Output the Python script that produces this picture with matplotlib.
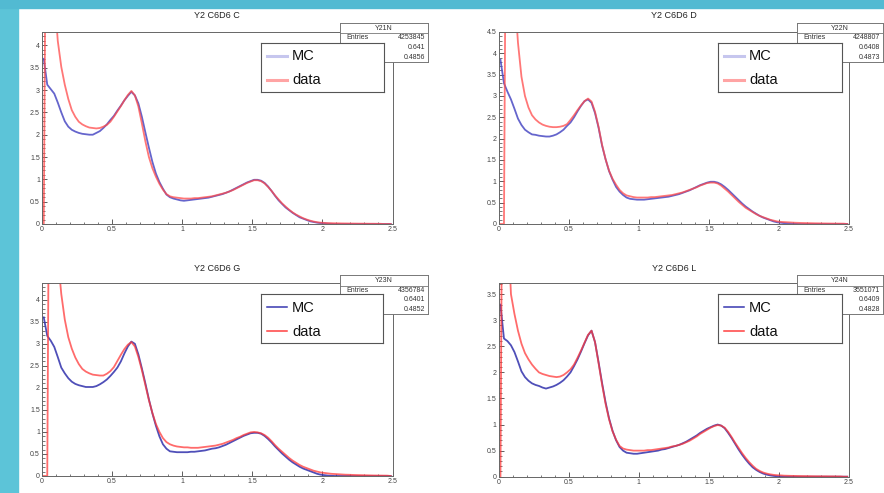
import numpy as np
import matplotlib
matplotlib.use("Agg")
import matplotlib.pyplot as plt
from matplotlib.patches import Rectangle
from matplotlib.ticker import MultipleLocator, FormatStrFormatter

plt.rcParams['font.family'] = ['Liberation Sans', 'DejaVu Sans']

# 100 bins of 0.025 between 0 and 2.5
bin_edges = np.linspace(0, 2.5, 101)
bin_centers = 0.5 * (bin_edges[:-1] + bin_edges[1:])

titles = ["Y2 C6D6 C", "Y2 C6D6 D", "Y2 C6D6 G", "Y2 C6D6 L"]
hist_names = ["Y21N", "Y22N", "Y23N", "Y24N"]
entries = ["4253845", "4248807", "4356784", "3551071"]
means = ["0.641", "0.6408", "0.6401", "0.6409"]
std_devs = ["0.4856", "0.4873", "0.4852", "0.4828"]
y_max = [4.3, 4.5, 4.38, 3.72]

mc_C = [3.7, 3.12, 3.02, 2.92, 2.72, 2.5, 2.3, 2.18, 2.11, 2.07,
        2.04, 2.02, 2.01, 2.0, 2.0, 2.04, 2.08, 2.15, 2.23, 2.33,
        2.42, 2.54, 2.65, 2.77, 2.87, 2.96, 2.88, 2.7, 2.4, 2.05,
        1.71, 1.39, 1.13, 0.94, 0.79, 0.66, 0.6, 0.57, 0.55, 0.53,
        0.52, 0.53, 0.54, 0.55, 0.56, 0.57, 0.58, 0.59, 0.61, 0.63,
        0.65, 0.67, 0.7, 0.73, 0.77, 0.81, 0.85, 0.89, 0.93, 0.96,
        0.99, 0.99, 0.97, 0.92, 0.84, 0.74, 0.63, 0.53, 0.45, 0.37,
        0.31, 0.25, 0.2, 0.15, 0.12, 0.09, 0.06, 0.045, 0.03, 0.02,
        0.015, 0.008, 0.004, 0, 0, 0, 0, 0, 0, 0,
        0, 0, 0, 0, 0, 0, 0, 0, 0, 0]
data_C = [0, 12.0, 8.0, 5.2, 4.1, 3.52, 3.12, 2.8, 2.55, 2.4,
          2.29, 2.23, 2.19, 2.16, 2.15, 2.14, 2.15, 2.18, 2.22, 2.29,
          2.4, 2.52, 2.64, 2.77, 2.89, 2.98, 2.88, 2.63, 2.25, 1.85,
          1.5, 1.25, 1.06, 0.9, 0.77, 0.67, 0.62, 0.6, 0.59, 0.58,
          0.57, 0.57, 0.57, 0.58, 0.58, 0.59, 0.6, 0.61, 0.62, 0.64,
          0.66, 0.68, 0.7, 0.73, 0.76, 0.8, 0.84, 0.88, 0.92, 0.95,
          0.98, 0.98, 0.96, 0.91, 0.83, 0.74, 0.64, 0.55, 0.46, 0.39,
          0.32, 0.26, 0.21, 0.17, 0.13, 0.1, 0.075, 0.055, 0.04, 0.03,
          0.025, 0.02, 0.018, 0.016, 0.015, 0.013, 0.012, 0.011, 0.01, 0.009,
          0.008, 0.008, 0.007, 0.006, 0.006, 0.005, 0.005, 0, 0, 0]

mc_D = [3.85, 3.3, 3.1, 2.92, 2.7, 2.47, 2.32, 2.21, 2.15, 2.1,
        2.09, 2.07, 2.06, 2.05, 2.05, 2.07, 2.1, 2.15, 2.21, 2.3,
        2.38, 2.5, 2.64, 2.77, 2.88, 2.92, 2.84, 2.6, 2.26, 1.84,
        1.52, 1.24, 1.04, 0.87, 0.76, 0.68, 0.62, 0.59, 0.58, 0.57,
        0.57, 0.57, 0.58, 0.59, 0.6, 0.61, 0.62, 0.63, 0.64, 0.66,
        0.68, 0.7, 0.73, 0.76, 0.79, 0.83, 0.87, 0.91, 0.94, 0.97,
        0.99, 0.99, 0.97, 0.93, 0.87, 0.8, 0.72, 0.64, 0.56, 0.48,
        0.41, 0.35, 0.29, 0.24, 0.19, 0.15, 0.12, 0.09, 0.06, 0.04,
        0.03, 0.02, 0.012, 0.008, 0.005, 0, 0, 0, 0, 0,
        0, 0, 0, 0, 0, 0, 0, 0, 0, 0]
data_D = [0, 0, 14.0, 9.0, 5.5, 4.25, 3.45, 3.0, 2.73, 2.55,
          2.45, 2.38, 2.33, 2.3, 2.28, 2.27, 2.27, 2.28, 2.3, 2.34,
          2.44, 2.55, 2.67, 2.78, 2.88, 2.94, 2.87, 2.63, 2.28, 1.86,
          1.52, 1.25, 1.06, 0.92, 0.8, 0.72, 0.67, 0.65, 0.63, 0.62,
          0.62, 0.62, 0.62, 0.63, 0.63, 0.64, 0.65, 0.66, 0.67, 0.68,
          0.7, 0.72, 0.74, 0.77, 0.8, 0.83, 0.86, 0.9, 0.93, 0.96,
          0.97, 0.97, 0.95, 0.9, 0.83, 0.76, 0.68, 0.6, 0.52, 0.45,
          0.38, 0.33, 0.28, 0.23, 0.19, 0.16, 0.13, 0.1, 0.08, 0.06,
          0.05, 0.045, 0.04, 0.035, 0.03, 0.027, 0.024, 0.022, 0.02, 0.018,
          0.016, 0.015, 0.013, 0.012, 0.011, 0.01, 0.01, 0.009, 0.008, 0]

mc_G = [3.6, 3.18, 3.07, 2.93, 2.7, 2.46, 2.33, 2.22, 2.14, 2.09,
        2.06, 2.04, 2.02, 2.02, 2.02, 2.04, 2.08, 2.13, 2.19, 2.27,
        2.36, 2.46, 2.6, 2.78, 2.94, 3.05, 3.0, 2.76, 2.44, 2.1,
        1.74, 1.42, 1.14, 0.9, 0.72, 0.62, 0.56, 0.55, 0.54, 0.54,
        0.54, 0.54, 0.55, 0.55, 0.56, 0.57, 0.58, 0.6, 0.62, 0.63,
        0.65, 0.68, 0.71, 0.75, 0.79, 0.83, 0.87, 0.91, 0.94, 0.97,
        0.98, 0.98, 0.96, 0.91, 0.84, 0.76, 0.67, 0.59, 0.51, 0.44,
        0.37, 0.31, 0.26, 0.21, 0.17, 0.14, 0.11, 0.08, 0.05, 0.03,
        0.02, 0.01, 0.005, 0, 0, 0, 0, 0, 0, 0,
        0, 0, 0, 0, 0, 0, 0, 0, 0, 0]
data_G = [0, 0, 14.0, 9.0, 5.0, 4.13, 3.55, 3.15, 2.89, 2.69,
          2.54, 2.43, 2.37, 2.33, 2.3, 2.29, 2.28, 2.28, 2.32, 2.38,
          2.47, 2.61, 2.75, 2.88, 2.98, 3.04, 2.94, 2.7, 2.4, 2.06,
          1.72, 1.43, 1.18, 1.0, 0.86, 0.77, 0.72, 0.69, 0.67, 0.66,
          0.65, 0.65, 0.64, 0.64, 0.64, 0.65, 0.66, 0.67, 0.68, 0.69,
          0.71, 0.73, 0.76, 0.79, 0.82, 0.86, 0.89, 0.93, 0.96, 0.99,
          1.0, 0.99, 0.97, 0.93, 0.87, 0.79, 0.7, 0.62, 0.55, 0.48,
          0.41, 0.35, 0.3, 0.25, 0.21, 0.18, 0.15, 0.12, 0.1, 0.08,
          0.07, 0.06, 0.05, 0.045, 0.04, 0.035, 0.03, 0.028, 0.025, 0.022,
          0.02, 0.018, 0.016, 0.014, 0.012, 0.011, 0.01, 0.009, 0.008, 0]

mc_L = [3.3, 2.65, 2.6, 2.52, 2.39, 2.21, 2.02, 1.91, 1.84, 1.79,
        1.76, 1.74, 1.71, 1.69, 1.71, 1.73, 1.76, 1.8, 1.85, 1.92,
        2.0, 2.12, 2.25, 2.4, 2.56, 2.71, 2.8, 2.58, 2.2, 1.8,
        1.43, 1.12, 0.88, 0.7, 0.57, 0.5, 0.46, 0.45, 0.44, 0.44,
        0.45, 0.46, 0.47, 0.48, 0.49, 0.5, 0.52, 0.53, 0.55, 0.57,
        0.59, 0.61, 0.64, 0.67, 0.71, 0.75, 0.79, 0.84, 0.88, 0.92,
        0.95, 0.98, 1.0, 0.98, 0.93, 0.84, 0.74, 0.63, 0.52, 0.42,
        0.33, 0.25, 0.18, 0.13, 0.09, 0.06, 0.04, 0.025, 0.015, 0.008,
        0.004, 0, 0, 0, 0, 0, 0, 0, 0, 0,
        0, 0, 0, 0, 0, 0, 0, 0, 0, 0]
data_L = [0, 12.0, 5.0, 3.5, 3.12, 2.8, 2.55, 2.37, 2.25, 2.15,
          2.07, 2.0, 1.97, 1.95, 1.93, 1.92, 1.91, 1.92, 1.95, 2.0,
          2.06, 2.15, 2.28, 2.42, 2.57, 2.72, 2.8, 2.58, 2.18, 1.77,
          1.4, 1.1, 0.87, 0.71, 0.59, 0.54, 0.52, 0.51, 0.5, 0.5,
          0.5, 0.5, 0.51, 0.51, 0.52, 0.53, 0.54, 0.55, 0.56, 0.58,
          0.59, 0.61, 0.63, 0.66, 0.69, 0.73, 0.77, 0.82, 0.86, 0.9,
          0.94, 0.97, 0.99, 0.98, 0.94, 0.86, 0.76, 0.65, 0.55, 0.45,
          0.36, 0.28, 0.21, 0.15, 0.11, 0.08, 0.06, 0.045, 0.035, 0.028,
          0.025, 0.02, 0.018, 0.016, 0.015, 0.013, 0.012, 0.011, 0.01, 0.009,
          0.008, 0.008, 0.007, 0.007, 0.006, 0.006, 0.005, 0.005, 0, 0]

mc_series = [mc_C, mc_D, mc_G, mc_L]
data_series = [data_C, data_D, data_G, data_L]

# layout in pixels (left, top, right, bottom) of the 884x493 canvas
W, H = 884, 493
axes_px = [(42, 32, 392.5, 224), (498.7, 32, 849, 224),
           (42, 283, 392.5, 476), (498.7, 282.7, 849, 476.7)]
legend_px = [(261, 43, 384, 92), (718, 43, 842, 92),
             (261, 294, 383, 343), (718, 294, 842, 343)]
stats_px = [(340, 23, 428, 62), (797, 23, 883, 62),
            (340, 275, 428, 314), (797, 275, 883, 314)]
title_y_px = [15.7, 15.7, 268.3, 268.3]

# top row has washed-out colours, bottom row is stronger
mc_colors = ['#4a4ac4', '#4a4ac4', '#3030ac', '#3030ac']
data_colors = ['#ff4a4a', '#ff4a4a', '#ff3a3a', '#ff3a3a']
leg_mc_colors = ['#c6c6ee', '#c6c6ee', '#3838b0', '#3838b0']
leg_data_colors = ['#ffa4a4', '#ffa4a4', '#ff4040', '#ff4040']
leg_lw = [2.2, 2.2, 1.1, 1.1]


def fig_rect(l, t, r, b):
    return [l / W, 1 - b / H, (r - l) / W, (b - t) / H]


fig = plt.figure(figsize=(W / 100, H / 100), dpi=100)
fig.patches.append(Rectangle((0, 0), 18 / W, 1, transform=fig.transFigure,
                             color='#5cc4d8', zorder=-5))
fig.patches.append(Rectangle((0, 1 - 8 / H), 1, 8 / H, transform=fig.transFigure,
                             color='#52bad2', zorder=-5))

for i in range(4):
    ax = fig.add_axes(fig_rect(*axes_px[i]))
    ax.plot(bin_centers, mc_series[i], color=mc_colors[i], lw=1.3, alpha=0.85)
    ax.plot(bin_centers, data_series[i], color=data_colors[i], lw=1.3, alpha=0.75)
    ax.set_xlim(0, 2.5)
    ax.set_ylim(0, y_max[i])
    ax.xaxis.set_major_locator(MultipleLocator(0.5))
    ax.xaxis.set_minor_locator(MultipleLocator(0.1))
    ax.yaxis.set_major_locator(MultipleLocator(0.5))
    ax.yaxis.set_minor_locator(MultipleLocator(0.1))
    ax.xaxis.set_major_formatter(FormatStrFormatter('%g'))
    ax.yaxis.set_major_formatter(FormatStrFormatter('%g'))
    ax.tick_params(which='both', direction='in', colors='#444', labelsize=5)
    ax.tick_params(which='major', length=3.6, width=0.6, pad=1.5)
    ax.tick_params(which='minor', length=1.8, width=0.5)
    for s in ax.spines.values():
        s.set_color('#666')
        s.set_linewidth(0.7)
    l, t, r, b = axes_px[i]
    ax.text(0.5, (b - title_y_px[i]) / (b - t), titles[i], transform=ax.transAxes,
            ha='center', va='center', fontsize=6.5, color='#222')

    # statistics box
    sl, st, sr, sb = stats_px[i]
    sh = sb - st
    sax = fig.add_axes(fig_rect(*stats_px[i]))
    sax.set_xticks([])
    sax.set_yticks([])
    sax.set_xlim(0, 1)
    sax.set_ylim(sh, 0)
    for s in sax.spines.values():
        s.set_color('#777')
        s.set_linewidth(0.7)
    sax.axhline(10.5, color='#777', lw=0.6)
    sax.text(0.5, 5.3, hist_names[i], ha='center', va='center', fontsize=5, color='#333')
    rows = [("Entries", entries[i]), ("Mean", means[i]), ("Std Dev", std_devs[i])]
    for k, (name, val) in enumerate(rows):
        y = 15 + 9.8 * k
        sax.text(0.07, y, name, ha='left', va='center', fontsize=5, color='#333')
        sax.text(0.97, y, val, ha='right', va='center', fontsize=5, color='#333')

    # legend box
    ll, lt, lr, lb = legend_px[i]
    lax = fig.add_axes(fig_rect(*legend_px[i]))
    lax.set_xticks([])
    lax.set_yticks([])
    lax.set_xlim(0, lr - ll)
    lax.set_ylim(lb - lt, 0)
    for s in lax.spines.values():
        s.set_color('#555')
        s.set_linewidth(0.8)
    lax.plot([6, 26], [13, 13], color=leg_mc_colors[i], lw=leg_lw[i])
    lax.text(31, 13.5, "MC", ha='left', va='center', fontsize=10.5, color='#111')
    lax.plot([6, 26], [37, 37], color=leg_data_colors[i], lw=leg_lw[i])
    lax.text(31, 37.5, "data", ha='left', va='center', fontsize=10.5, color='#111')

fig.savefig("out.png", dpi=100)
